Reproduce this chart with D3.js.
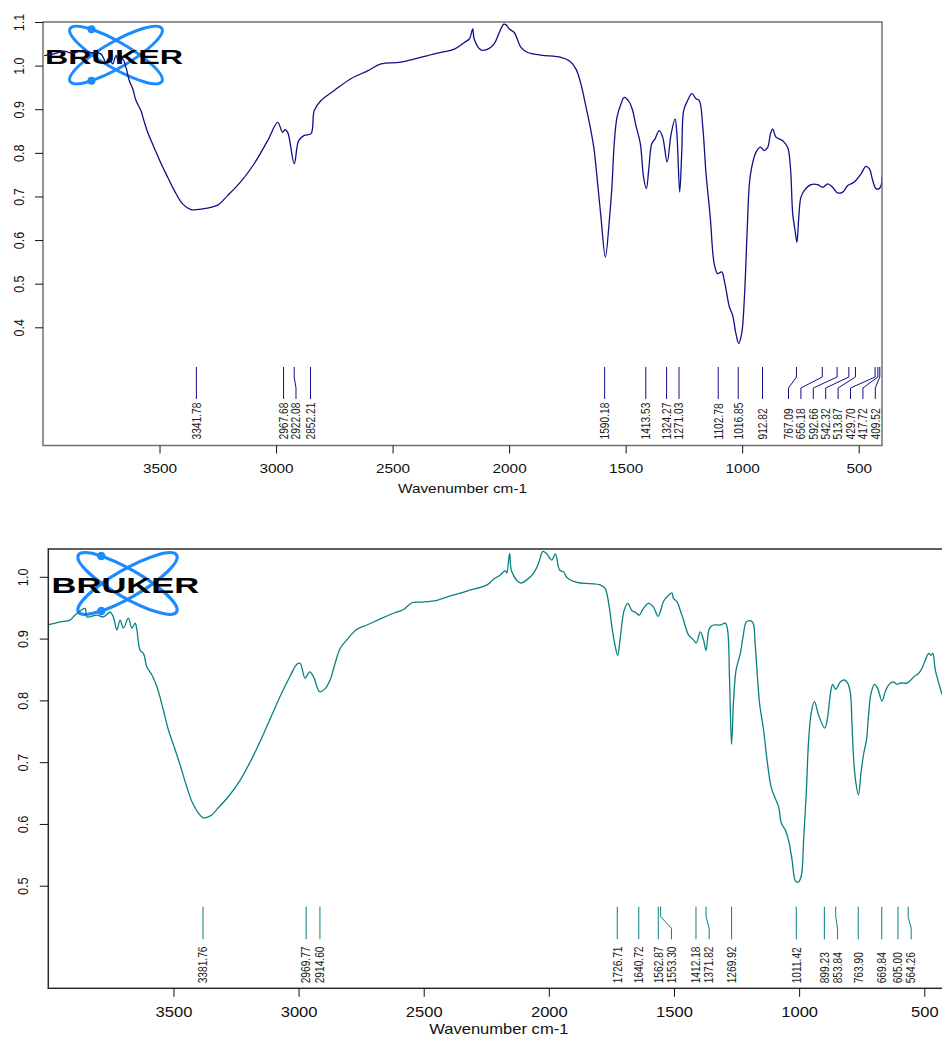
<!DOCTYPE html>
<html>
<head>
<meta charset="utf-8">
<script src="https://cdn.jsdelivr.net/npm/d3@7"></script>
<style>
body { margin: 0; background: #fff; }
svg { display: block; }
text { font-family: "Liberation Sans", Arial, sans-serif; }
</style>
</head>
<body>
<div id="chart"></div>
<script>
// upper spectrum (navy)
var topWavenumbers = [
    3995, 3952, 3909, 3873, 3837, 3794, 3752, 3730, 3716, 3701,
    3687, 3673, 3658, 3644, 3630, 3615, 3601, 3580, 3567, 3551,
    3524, 3494, 3465, 3437, 3401, 3365, 3322, 3251, 3208, 3151,
    3094, 3036, 2993, 2972, 2962, 2950, 2922, 2903, 2879, 2850,
    2836, 2807, 2750, 2679, 2607, 2550, 2464, 2321, 2235, 2192,
    2171, 2156, 2150, 2121, 2092, 2064, 2042, 2023, 2014, 1999,
    1978, 1949, 1920, 1863, 1778, 1742, 1713, 1692, 1670, 1649,
    1635, 1620, 1606, 1587, 1570, 1559, 1549, 1537, 1520, 1506,
    1484, 1470, 1456, 1437, 1423, 1411, 1400, 1388, 1374, 1356,
    1341, 1322, 1305, 1288, 1280, 1268, 1259, 1251, 1234, 1216,
    1198, 1184, 1169, 1155, 1137, 1120, 1105, 1088, 1074, 1055,
    1041, 1027, 1015, 1002, 991, 979, 969, 959, 941, 922,
    905, 890, 879, 869, 855, 826, 805, 793, 783, 773,
    765, 757, 748, 733, 705, 676, 654, 633, 612, 590,
    569, 547, 519, 490, 469, 454, 440, 426, 412, 404,
    400
];
var topValues = [
    1.023, 1.027, 1.033, 1.028, 1.034, 1.030, 1.027, 1.008, 1.019, 1.004,
    1.023, 1.005, 1.015, 0.996, 0.966, 0.947, 0.920, 0.897, 0.874, 0.847,
    0.813, 0.776, 0.744, 0.714, 0.683, 0.670, 0.671, 0.680, 0.702, 0.734,
    0.775, 0.828, 0.870, 0.847, 0.853, 0.847, 0.775, 0.828, 0.840, 0.844,
    0.897, 0.920, 0.943, 0.970, 0.988, 1.004, 1.008, 1.027, 1.038, 1.053,
    1.061, 1.084, 1.061, 1.036, 1.038, 1.050, 1.076, 1.095, 1.094, 1.084,
    1.076, 1.042, 1.030, 1.024, 1.019, 1.011, 0.992, 0.958, 0.905, 0.851,
    0.806, 0.729, 0.653, 0.561, 0.645, 0.721, 0.821, 0.882, 0.912, 0.927,
    0.916, 0.897, 0.863, 0.821, 0.744, 0.718, 0.767, 0.821, 0.832, 0.851,
    0.836, 0.779, 0.843, 0.878, 0.843, 0.710, 0.805, 0.897, 0.920, 0.936,
    0.924, 0.920, 0.859, 0.752, 0.653, 0.546, 0.523, 0.527, 0.500, 0.447,
    0.428, 0.386, 0.363, 0.386, 0.462, 0.615, 0.729, 0.767, 0.801, 0.813,
    0.805, 0.813, 0.843, 0.855, 0.836, 0.828, 0.813, 0.767, 0.660, 0.622,
    0.595, 0.653, 0.698, 0.714, 0.727, 0.727, 0.721, 0.729, 0.721, 0.708,
    0.710, 0.725, 0.733, 0.752, 0.769, 0.763, 0.737, 0.718, 0.718, 0.725,
    0.744
];
var topPeaks = [3341.78, 2967.68, 2922.08, 2852.21, 1590.18, 1413.53, 1324.27, 1271.03,
    1102.78, 1016.85, 912.82, 767.09, 656.18, 592.66, 542.32, 513.87, 429.70, 417.72, 409.52];

// lower spectrum (teal)
var bottomWavenumbers = [
    4000, 3953, 3913, 3893, 3853, 3846, 3806, 3780, 3753, 3740,
    3726, 3713, 3700, 3680, 3666, 3653, 3646, 3633, 3620, 3606,
    3586, 3566, 3540, 3520, 3500, 3473, 3449, 3425, 3401, 3381,
    3353, 3321, 3281, 3233, 3185, 3145, 3105, 3066, 3034, 3006,
    2994, 2974, 2956, 2940, 2916, 2894, 2874, 2854, 2834, 2807,
    2767, 2727, 2667, 2621, 2581, 2547, 2514, 2447, 2394, 2327,
    2247, 2221, 2194, 2174, 2168, 2157, 2148, 2114, 2088, 2061,
    2041, 2024, 2008, 1988, 1974, 1957, 1941, 1928, 1888, 1835,
    1795, 1775, 1761, 1748, 1737, 1725, 1715, 1699, 1684, 1668,
    1655, 1639, 1622, 1602, 1582, 1564, 1555, 1542, 1522, 1508,
    1502, 1488, 1475, 1462, 1442, 1422, 1411, 1395, 1382, 1372,
    1358, 1342, 1315, 1295, 1286, 1278, 1270, 1262, 1252, 1235,
    1224, 1211, 1195, 1184, 1175, 1158, 1142, 1128, 1112, 1095,
    1082, 1071, 1055, 1042, 1028, 1015, 1004, 992, 982, 971,
    962, 952, 939, 922, 898, 888, 875, 866, 854, 835,
    819, 806, 795, 789, 782, 773, 763, 753, 742, 731,
    722, 713, 699, 686, 669, 656, 642, 625, 609, 596,
    569, 556, 542, 522, 509, 496, 482, 473, 466, 456,
    442, 429
];
var bottomValues = [
    0.922, 0.927, 0.930, 0.938, 0.949, 0.935, 0.938, 0.935, 0.943, 0.935,
    0.914, 0.930, 0.917, 0.933, 0.917, 0.925, 0.914, 0.881, 0.876, 0.854,
    0.841, 0.822, 0.784, 0.752, 0.728, 0.695, 0.663, 0.635, 0.618, 0.610,
    0.613, 0.626, 0.644, 0.671, 0.707, 0.741, 0.778, 0.813, 0.839, 0.859,
    0.860, 0.836, 0.846, 0.838, 0.814, 0.819, 0.833, 0.860, 0.884, 0.898,
    0.915, 0.922, 0.933, 0.941, 0.947, 0.958, 0.959, 0.962, 0.969, 0.977,
    0.987, 0.996, 1.003, 1.010, 1.006, 1.038, 1.008, 0.990, 0.995, 1.006,
    1.022, 1.041, 1.037, 1.027, 1.037, 1.011, 1.008, 0.999, 0.991, 0.989,
    0.987, 0.981, 0.957, 0.919, 0.892, 0.873, 0.900, 0.946, 0.957, 0.945,
    0.943, 0.938, 0.949, 0.957, 0.951, 0.936, 0.943, 0.960, 0.970, 0.974,
    0.965, 0.960, 0.946, 0.930, 0.906, 0.898, 0.893, 0.911, 0.898, 0.881,
    0.917, 0.922, 0.922, 0.925, 0.914, 0.833, 0.729, 0.800, 0.849, 0.876,
    0.903, 0.927, 0.929, 0.925, 0.887, 0.795, 0.752, 0.703, 0.660, 0.641,
    0.628, 0.601, 0.590, 0.573, 0.541, 0.508, 0.506, 0.515, 0.574, 0.655,
    0.736, 0.779, 0.798, 0.776, 0.755, 0.768, 0.811, 0.826, 0.818, 0.830,
    0.833, 0.828, 0.811, 0.763, 0.703, 0.666, 0.647, 0.682, 0.714, 0.736,
    0.779, 0.811, 0.826, 0.819, 0.799, 0.814, 0.825, 0.830, 0.826, 0.828,
    0.828, 0.832, 0.838, 0.844, 0.852, 0.865, 0.876, 0.873, 0.876, 0.849,
    0.828, 0.809
];
var bottomPeaks = [3381.76, 2969.77, 2914.60, 1726.71, 1640.72, 1562.87, 1553.30, 1412.18,
    1371.82, 1269.92, 1011.42, 899.23, 853.84, 763.90, 669.84, 605.00, 564.26];

var xTickValues = [3500, 3000, 2500, 2000, 1500, 1000, 500];
var topYTickValues = [0.4, 0.5, 0.6, 0.7, 0.8, 0.9, 1.0, 1.1];
var bottomYTickValues = [0.5, 0.6, 0.7, 0.8, 0.9, 1.0];
var xTitle = "Wavenumber cm-1";

var width = 942, height = 1039;
var stretch = 1.2;   // the picture is a bit wider than tall

var svg = d3.select("#chart")
            .append("svg")
            .attr("width", width)
            .attr("height", height);

// push labels apart so they don't overlap, keep them inside on the right
function spreadLabels(xs, gap, maxX) {
    var pos = xs.slice();
    for (var i = 1; i < pos.length; i++) {
        if (pos[i] < pos[i - 1] + gap) pos[i] = pos[i - 1] + gap;
    }
    var n = pos.length - 1;
    if (pos[n] > maxX) pos[n] = maxX;
    for (var j = n - 1; j >= 0; j--) {
        if (pos[j] > pos[j + 1] - gap) pos[j] = pos[j + 1] - gap;
    }
    return pos;
}

function drawLogo(cx, cy, k) {
    var g = svg.append("g").attr("transform", "translate(" + cx + "," + cy + ") scale(" + k + ")");
    var a = 53, b = 13, th = 30 * Math.PI / 180, t = 230 * Math.PI / 180;
    [30, -30].forEach(function(angle) {
        g.append("ellipse")
            .attr("rx", a).attr("ry", b)
            .attr("transform", "rotate(" + angle + ")")
            .attr("fill", "none")
            .attr("stroke", "#1a8cff")
            .attr("stroke-width", 3);
    });
    var ex = a * Math.cos(t) * Math.cos(th) - b * Math.sin(t) * Math.sin(th);
    var ey = a * Math.cos(t) * Math.sin(th) + b * Math.sin(t) * Math.cos(th);
    g.selectAll("circle")
        .data([[ex, ey], [ex, -ey]])
        .enter()
        .append("circle")
        .attr("cx", function(d) { return d[0]; })
        .attr("cy", function(d) { return d[1]; })
        .attr("r", 4)
        .attr("fill", "#1a8cff");
    g.append("text")
        .attr("x", -71)
        .attr("y", 8.5)
        .attr("textLength", 138)
        .attr("lengthAdjust", "spacingAndGlyphs")
        .attr("font-family", "DejaVu Sans")
        .attr("font-weight", "bold")
        .attr("font-size", "20.5px")
        .attr("fill", "#000")
        .text("BRUKER");
}

function drawPanel(p) {
    var x = d3.scaleLinear().domain([4000, 400]).range([p.left, p.right]);
    var y = d3.scaleLinear().domain(p.yDomain).range([p.bottom, p.top]);

    var clipId = "clip" + p.id;
    svg.append("clipPath").attr("id", clipId)
        .append("rect")
        .attr("x", p.left).attr("y", p.top)
        .attr("width", p.right - p.left).attr("height", p.bottom - p.top);

    drawLogo(p.logo[0], p.logo[1], p.logo[2]);

    // spectrum
    var line = d3.line()
        .x(function(d) { return x(d[0]); })
        .y(function(d) { return y(d[1]); })
        .curve(d3.curveCatmullRom.alpha(0.5));
    svg.append("path")
        .datum(d3.zip(p.wavenumbers, p.values))
        .attr("clip-path", "url(#" + clipId + ")")
        .attr("d", line)
        .attr("fill", "none")
        .attr("stroke", p.color)
        .attr("stroke-width", 1.3)
        .attr("stroke-linejoin", "round");

    // peak markers
    var px = p.peaks.map(function(v) { return x(v); });
    var lx = spreadLabels(px, p.labelGap, p.right - 6.7);
    var o = p.markOffsets;
    var peakG = svg.append("g");
    p.peaks.forEach(function(v, i) {
        var path;
        if (Math.abs(lx[i] - px[i]) < 0.5) {
            path = "M" + px[i] + "," + (p.bottom - o[0]) + "V" + (p.bottom - o[3]);
        } else {
            path = "M" + px[i] + "," + (p.bottom - o[0]) + "V" + (p.bottom - o[1]) +
                   "L" + lx[i] + "," + (p.bottom - o[2]) + "V" + (p.bottom - o[3]);
        }
        peakG.append("path")
            .attr("d", path)
            .attr("fill", "none")
            .attr("stroke", p.color)
            .attr("stroke-width", 1);
        peakG.append("text")
            .attr("transform", "translate(" + lx[i] + "," + (p.bottom - o[4]) + ") scale(" + stretch + ",1) rotate(-90)")
            .attr("dy", "0.35em")
            .attr("font-size", "10.2px")
            .attr("fill", "#222")
            .text(d3.format(".2f")(v));
    });

    // frame
    svg.append("rect")
        .attr("x", p.left).attr("y", p.top)
        .attr("width", p.right - p.left).attr("height", p.bottom - p.top)
        .attr("fill", "none")
        .attr("stroke", p.boxColor)
        .attr("stroke-width", 1.5);

    // x axis
    var xAxis = svg.append("g")
        .attr("transform", "translate(0," + p.bottom + ")")
        .attr("color", "#111")
        .call(d3.axisBottom(x).tickValues(xTickValues).tickSize(p.tickLen).tickFormat(d3.format("d")));
    xAxis.select(".domain").remove();
    xAxis.selectAll("text")
        .attr("y", p.tickLabelDy)
        .attr("dy", null)
        .attr("transform", "scale(" + stretch + ",1)")
        .attr("font-family", null)
        .attr("font-size", p.fontSize + "px")
        .attr("fill", "#111");

    // y axis
    var yAxis = svg.append("g")
        .attr("transform", "translate(" + p.left + ",0)")
        .attr("color", "#111")
        .call(d3.axisLeft(y).tickValues(p.yTicks).tickSize(p.tickLen).tickFormat(d3.format(".1f")));
    yAxis.select(".domain").remove();
    yAxis.selectAll("text")
        .attr("x", null)
        .attr("dy", "0.35em")
        .attr("text-anchor", "middle")
        .attr("transform", "translate(" + (p.yLabelX - p.left) + ",0) scale(" + stretch + ",1) rotate(-90)")
        .attr("font-family", null)
        .attr("font-size", p.yFontSize + "px")
        .attr("fill", "#111");

    svg.append("text")
        .attr("transform", "translate(" + ((p.left + p.right) / 2) + "," + (p.bottom + p.titleDy) + ") scale(" + stretch + ",1)")
        .attr("text-anchor", "middle")
        .attr("font-size", p.fontSize + "px")
        .attr("fill", "#111")
        .text(xTitle);
}

drawPanel({
    id: 1,
    left: 43, right: 882, top: 22, bottom: 445.5,
    yDomain: [0.129, 1.1],
    yTicks: topYTickValues,
    wavenumbers: topWavenumbers, values: topValues, peaks: topPeaks,
    color: "#101088", boxColor: "#707070",
    labelGap: 12.4,
    markOffsets: [78.5, 68.5, 57.5, 46.5, 6],
    logo: [116, 55, 1],
    tickLen: 8, tickLabelDy: 27.2, titleDy: 47.8,
    fontSize: 12.8, yFontSize: 12.5, yLabelX: 18.5
});

drawPanel({
    id: 2,
    left: 48.3, right: 949.3, top: 549, bottom: 988.3,
    yDomain: [0.334, 1.045],
    yTicks: bottomYTickValues,
    wavenumbers: bottomWavenumbers, values: bottomValues, peaks: bottomPeaks,
    color: "#0a8080", boxColor: "#2a2a2a",
    labelGap: 13.2,
    markOffsets: [81.6, 71.6, 60, 49, 5],
    logo: [127.5, 583.5, 1.07],
    tickLen: 8.5, tickLabelDy: 28.6, titleDy: 46,
    fontSize: 13.8, yFontSize: 12.8, yLabelX: 23
});
</script>
</body>
</html>
